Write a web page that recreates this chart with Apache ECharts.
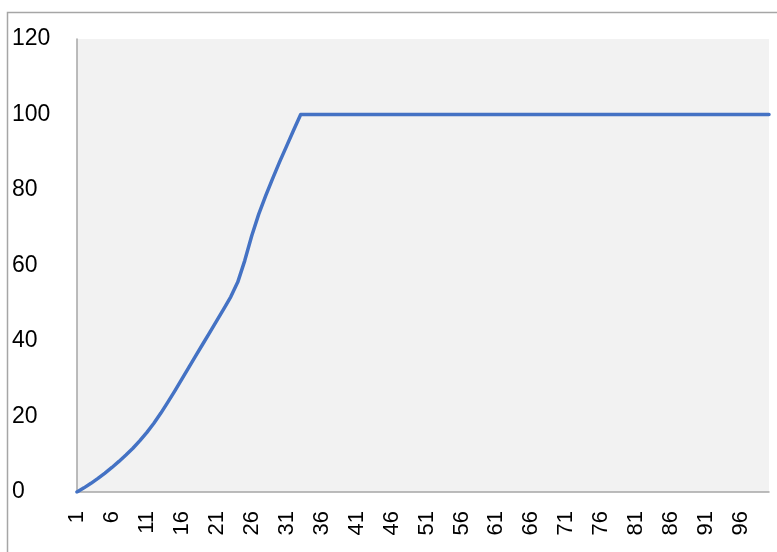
<!DOCTYPE html>
<html>
<head>
<meta charset="utf-8">
<script src="https://cdn.jsdelivr.net/npm/echarts@6/dist/echarts.min.js"></script>
<style>
html,body{margin:0;padding:0;background:#fff;}
#chart{width:777px;height:552px;}
</style>
</head>
<body>
<div id="chart"></div>
<script>
const categories = [
  1,2,3,4,5,6,7,8,9,10,11,12,13,14,15,16,17,18,19,20,
  21,22,23,24,25,26,27,28,29,30,31,32,33,34,35,36,37,38,39,40,
  41,42,43,44,45,46,47,48,49,50,51,52,53,54,55,56,57,58,59,60,
  61,62,63,64,65,66,67,68,69,70,71,72,73,74,75,76,77,78,79,80,
  81,82,83,84,85,86,87,88,89,90,91,92,93,94,95,96,97,98,99,100
];
const values = [
  0, 1.1, 2.3, 3.6, 5.0, 6.5, 8.1, 9.8, 11.6, 13.6,
  15.8, 18.2, 20.9, 23.8, 26.8, 29.9, 33.0, 36.1, 39.2, 42.3,
  45.4, 48.5, 51.7, 55.6, 61.3, 67.9, 73.6, 78.5, 83.1, 87.5,
  91.7, 95.9, 100, 100, 100, 100, 100, 100, 100, 100,
  100, 100, 100, 100, 100, 100, 100, 100, 100, 100,
  100, 100, 100, 100, 100, 100, 100, 100, 100, 100,
  100, 100, 100, 100, 100, 100, 100, 100, 100, 100,
  100, 100, 100, 100, 100, 100, 100, 100, 100, 100,
  100, 100, 100, 100, 100, 100, 100, 100, 100, 100,
  100, 100, 100, 100, 100, 100, 100, 100, 100, 100
];
const yMin = 0, yMax = 120, yStep = 20;

const chart = echarts.init(document.getElementById('chart'), null, {renderer: 'canvas'});
chart.setOption({
  animation: false,
  backgroundColor: '#ffffff',
  graphic: [{
    type: 'rect',
    shape: {x: 7.5, y: 12.5, width: 900, height: 700},
    style: {fill: 'none', stroke: '#a6a6a6', lineWidth: 1.5},
    z: -1
  }],
  grid: {
    left: 77, top: 39, right: 8, bottom: 60,
    show: true, backgroundColor: '#f2f2f2', borderWidth: 0
  },
  xAxis: {
    type: 'category',
    data: categories,
    boundaryGap: false,
    axisLine: {show: true, lineStyle: {color: '#a6a6a6', width: 1.5}},
    axisTick: {show: false},
    splitLine: {show: false},
    axisLabel: {
      interval: 4,
      rotate: 90,
      margin: 19,
      fontSize: 22,
      fontFamily: 'Liberation Sans, Arial, sans-serif',
      color: '#000'
    }
  },
  yAxis: {
    type: 'value',
    min: yMin, max: yMax, interval: yStep,
    axisLine: {show: true, lineStyle: {color: '#a6a6a6', width: 1.5}},
    axisTick: {show: false},
    splitLine: {show: false},
    axisLabel: {
      align: 'left',
      margin: 65,
      fontSize: 23,
      fontFamily: 'Liberation Sans, Arial, sans-serif',
      color: '#000'
    }
  },
  series: [{
    type: 'line',
    data: values,
    showSymbol: false,
    smooth: false,
    lineStyle: {color: '#4472c4', width: 3.5, join: 'round', cap: 'round'},
    itemStyle: {color: '#4472c4'}
  }]
});
</script>
</body>
</html>
